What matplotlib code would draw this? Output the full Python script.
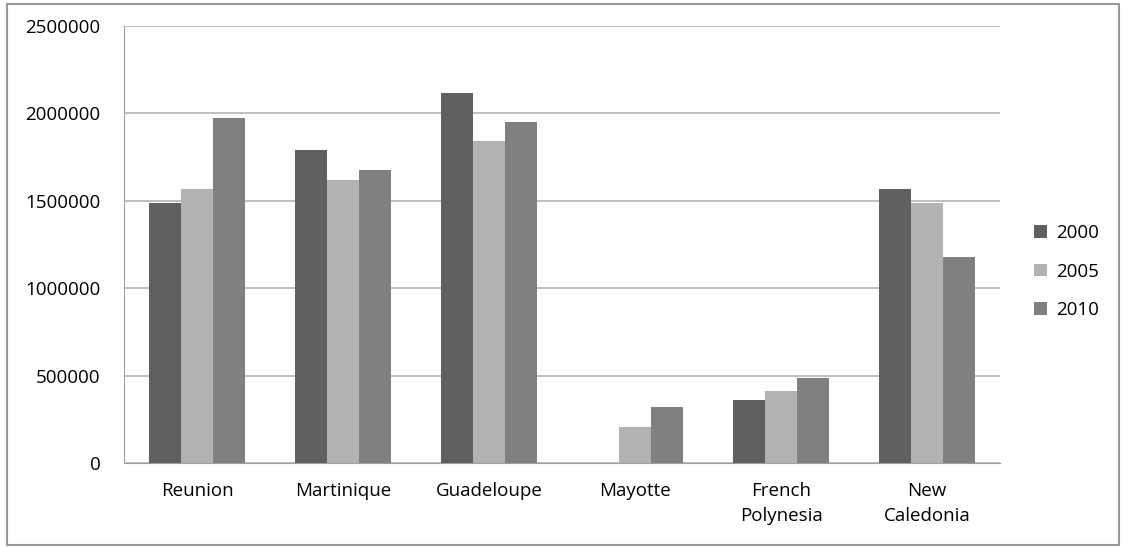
import matplotlib.pyplot as plt
from matplotlib.patches import Rectangle
import numpy as np

plt.rcParams['font.family'] = ['Open Sans', 'DejaVu Sans']

territories = ['Reunion', 'Martinique', 'Guadeloupe', 'Mayotte', 'French\nPolynesia', 'New\nCaledonia']
years = ['2000', '2005', '2010']
v2000 = [1490000, 1790000, 2115000, 0, 358000, 1565000]
v2005 = [1570000, 1620000, 1840000, 208000, 413000, 1485000]
v2010 = [1975000, 1675000, 1950000, 320000, 485000, 1180000]
colors = ['#606060', '#b2b2b2', '#808080']

fig = plt.figure(figsize=(11.26, 5.47), dpi=100)
ax = fig.add_axes([124 / 1126, 1 - 463 / 547, 876 / 1126, 437 / 547])

x = np.arange(len(territories))
w = 0.22
for i, (vals, col, yr) in enumerate(zip([v2000, v2005, v2010], colors, years)):
    ax.bar(x + (i - 1) * w, vals, w, color=col, label=yr, zorder=3)

ax.set_xlim(-0.5, len(territories) - 0.5)
ax.set_ylim(0, 2500000)
ax.set_yticks(np.arange(0, 2500001, 500000))
ax.set_yticklabels([str(v) for v in range(0, 2500001, 500000)], fontsize=13.5)
ax.set_xticks(x)
ax.set_xticklabels(territories, fontsize=13.5, linespacing=1.45)
ax.tick_params(length=0)
ax.tick_params(axis='x', pad=14)
ax.tick_params(axis='y', pad=17)
ax.yaxis.grid(True, color='#b4b4b4', linewidth=1.2, zorder=0)
for s in ['top', 'right']:
    ax.spines[s].set_visible(False)
ax.spines['left'].set_color('#a0a0a0')
ax.spines['bottom'].set_color('#a0a0a0')

leg = ax.legend(loc='center left', bbox_to_anchor=(1.02, 0.438), frameon=False,
                fontsize=13.5, handlelength=0.65, handleheight=0.65, labelspacing=1.1,
                handletextpad=0.5)

fig.patches.append(Rectangle((7 / 1126, 2 / 547), 1112 / 1126, 541 / 547,
                             transform=fig.transFigure, fill=False,
                             edgecolor='#999999', linewidth=1.5))

fig.savefig('out.png', dpi=100)
